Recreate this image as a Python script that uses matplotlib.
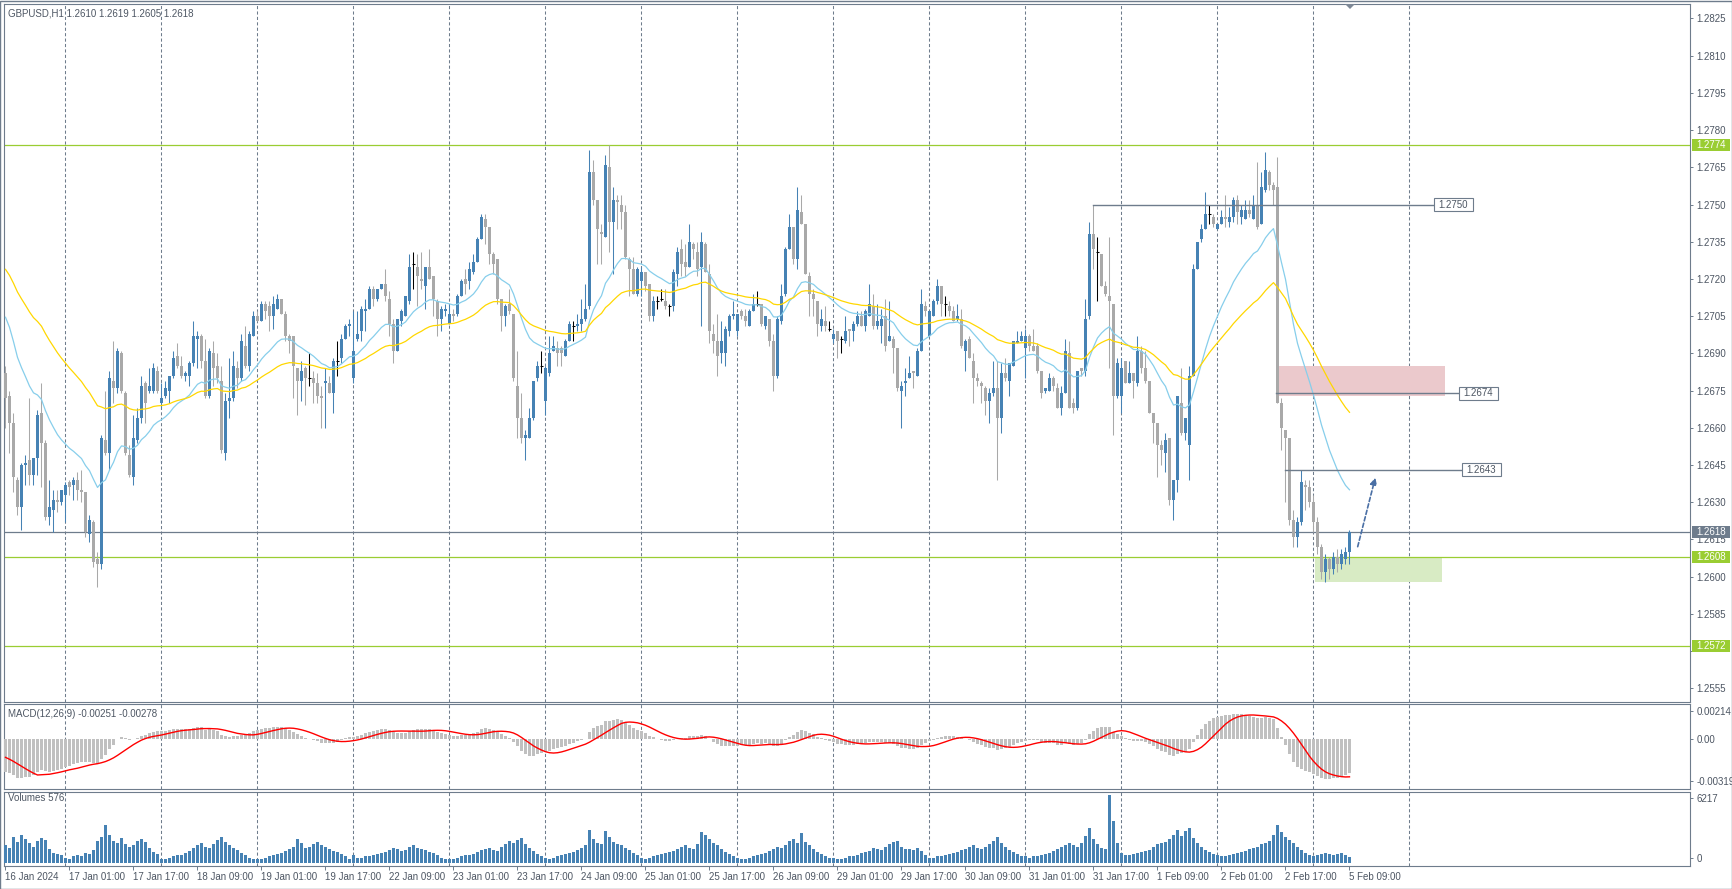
import numpy as np
import matplotlib
matplotlib.use("Agg")
import matplotlib.pyplot as plt
from matplotlib import transforms
from matplotlib.patches import Rectangle, Polygon

plt.rcParams['font.family'] = ['Liberation Sans', 'DejaVu Sans']

# ---------------- data (prices in 1/10000 above 1.0000) ----------------
symbol_title = "GBPUSD,H1 1.2610 1.2619 1.2605 1.2618"
macd_title = "MACD(12,26,9) -0.00251 -0.00278"
vol_title = "Volumes 576"

opens_p = [
2682,2673,2662,2639,2628,2645,2647,2641,2648,2666,
2654,2624,2627,2631,2630,2633,2638,2637,2639,2635,
2634,2617,2622,2607,2605,2655,2650,2679,2676,2690,
2674,2649,2640,2655,2664,2678,2675,2675,2683,2670,
2673,2675,2681,2689,2685,2681,2681,2686,2696,2697,
2687,2673,2690,2685,2679,2650,2671,2672,2684,2680,
2693,2685,2697,2705,2703,2710,2709,2705,2708,2712,
2706,2697,2697,2684,2679,2684,2680,2680,2678,2673,
2678,2678,2674,2687,2688,2696,2701,2680,2696,2699,
2707,2708,2716,2712,2716,2718,2712,2702,2691,2703,
2705,2711,2726,2725,2720,2717,2725,2721,2711,2704,
2707,2702,2706,2706,2713,2720,2719,2723,2727,2736,
2744,2741,2730,2728,2712,2705,2710,2706,2677,2664,
2656,2656,2664,2680,2685,2671,2682,2691,2692,2692,
2689,2695,2701,2701,2702,2704,2709,2763,2752,2739,
2737,2765,2743,2752,2750,2747,2728,2724,2714,2719,
2723,2718,2705,2711,2712,2711,2709,2709,2722,2732,
2727,2725,2734,2731,2725,2734,2722,2698,2695,2690,
2690,2699,2705,2699,2707,2705,2701,2707,2710,2710,
2701,2704,2695,2681,2703,2714,2732,2741,2728,2747,
2742,2721,2714,2711,2701,2703,2700,2696,2699,2696,
2695,2700,2699,2702,2705,2701,2705,2709,2701,2701,
2705,2695,2696,2692,2675,2678,2680,2683,2681,2691,
2709,2697,2705,2711,2717,2710,2709,2707,2704,2704,
2691,2696,2687,2680,2678,2676,2671,2674,2676,2664,
2682,2679,2685,2694,2695,2692,2697,2693,2693,2683,
2675,2675,2680,2676,2668,2674,2690,2670,2668,2684,
2683,2705,2738,2731,2730,2717,2713,2710,2673,2673,
2687,2678,2682,2678,2691,2684,2679,2666,2662,2653,
2650,2656,2631,2639,2670,2658,2653,2681,2724,2736,
2740,2746,2745,2740,2742,2745,2743,2745,2752,2745,
2744,2748,2744,2750,2742,2756,2763,2758,2757,2670,
2659,2656,2623,2616,2622,2637,2636,2630,2622,2612,
2602,2607,2603,2608,2605,2607,2610]

highs_p = [
2685,2675,2666,2640,2646,2649,2672,2648,2667,2678,
2655,2639,2635,2635,2635,2638,2639,2640,2642,2643,
2634,2625,2623,2610,2657,2675,2683,2695,2692,2691,
2675,2653,2665,2668,2681,2679,2684,2686,2685,2678,
2679,2681,2691,2694,2689,2683,2687,2703,2699,2698,
2696,2692,2695,2690,2685,2674,2688,2691,2687,2698,
2701,2699,2707,2707,2711,2711,2711,2713,2714,2712,
2707,2698,2697,2684,2687,2685,2690,2683,2682,2677,
2684,2681,2688,2695,2698,2702,2704,2707,2707,2709,
2712,2717,2717,2716,2718,2724,2715,2704,2704,2708,
2713,2730,2731,2730,2731,2725,2732,2721,2712,2709,
2710,2710,2708,2714,2720,2724,2727,2730,2737,2746,
2746,2741,2731,2728,2712,2710,2716,2706,2691,2674,
2659,2668,2679,2687,2691,2685,2697,2697,2695,2693,
2696,2703,2703,2706,2712,2718,2772,2768,2752,2742,
2770,2774,2757,2754,2754,2750,2729,2729,2725,2725,
2723,2718,2713,2713,2716,2716,2710,2724,2733,2736,
2734,2742,2735,2735,2739,2735,2726,2702,2706,2703,
2701,2706,2711,2706,2708,2708,2708,2714,2715,2710,
2705,2704,2698,2705,2718,2733,2746,2741,2757,2754,
2742,2723,2716,2711,2708,2709,2703,2700,2699,2697,
2705,2700,2703,2707,2707,2708,2718,2714,2710,2708,
2712,2711,2697,2692,2679,2684,2689,2683,2692,2716,
2711,2707,2712,2720,2717,2713,2711,2709,2710,2708,
2696,2697,2690,2682,2679,2677,2676,2687,2687,2686,
2688,2686,2695,2699,2699,2700,2698,2700,2694,2683,
2676,2682,2681,2678,2677,2696,2695,2672,2683,2684,
2712,2743,2750,2737,2730,2719,2737,2710,2688,2688,
2687,2687,2682,2697,2693,2691,2679,2666,2662,2655,
2658,2656,2639,2673,2684,2664,2685,2726,2735,2742,
2755,2750,2746,2742,2748,2754,2749,2753,2754,2750,
2752,2752,2754,2767,2763,2771,2764,2759,2769,2672,
2659,2656,2627,2624,2643,2639,2639,2633,2624,2613,
2609,2608,2610,2611,2611,2612,2619]

lows_p = [
2660,2650,2634,2625,2619,2637,2637,2637,2641,2636,
2623,2621,2618,2626,2629,2622,2633,2631,2631,2630,
2616,2614,2604,2596,2603,2649,2643,2670,2674,2674,
2649,2640,2637,2654,2662,2662,2674,2674,2674,2668,
2672,2670,2680,2684,2680,2679,2677,2685,2684,2684,
2672,2672,2677,2678,2650,2647,2664,2671,2676,2679,
2684,2683,2697,2703,2703,2704,2699,2700,2708,2706,
2695,2690,2672,2665,2671,2669,2677,2670,2670,2660,
2660,2674,2666,2681,2686,2696,2697,2678,2695,2695,
2699,2708,2709,2711,2716,2711,2697,2686,2691,2701,
2705,2710,2716,2709,2716,2708,2720,2705,2697,2699,
2705,2702,2703,2705,2713,2714,2716,2722,2727,2736,
2734,2726,2722,2710,2699,2701,2706,2679,2656,2654,
2647,2656,2663,2679,2682,2665,2681,2691,2685,2685,
2689,2695,2695,2699,2699,2703,2708,2750,2726,2726,
2737,2731,2722,2740,2740,2728,2713,2714,2713,2713,
2715,2703,2703,2708,2711,2708,2705,2707,2717,2721,
2721,2725,2728,2721,2701,2723,2694,2690,2681,2686,
2685,2697,2704,2697,2704,2701,2701,2707,2709,2701,
2700,2693,2675,2680,2702,2713,2732,2726,2724,2742,
2722,2705,2705,2697,2699,2699,2699,2694,2688,2690,
2694,2693,2695,2701,2701,2699,2705,2700,2700,2694,
2691,2695,2682,2675,2660,2673,2680,2676,2681,2691,
2705,2697,2705,2710,2705,2705,2705,2703,2703,2692,
2683,2688,2670,2677,2670,2665,2662,2673,2639,2658,
2679,2673,2685,2694,2695,2680,2691,2691,2682,2672,
2674,2675,2675,2668,2665,2674,2668,2666,2667,2681,
2681,2704,2724,2711,2717,2713,2684,2657,2672,2666,
2678,2678,2672,2677,2682,2678,2666,2654,2640,2645,
2642,2629,2623,2634,2657,2655,2639,2681,2724,2735,
2740,2742,2741,2740,2742,2741,2741,2743,2742,2742,
2744,2745,2744,2740,2742,2755,2756,2750,2670,2651,
2630,2621,2612,2612,2621,2627,2628,2618,2609,2599,
2598,2599,2601,2602,2603,2605,2605]

closes_p = [
2672,2662,2640,2628,2645,2646,2641,2648,2665,2654,
2624,2628,2631,2630,2635,2637,2636,2639,2635,2634,
2618,2623,2606,2605,2656,2650,2680,2676,2691,2675,
2650,2641,2656,2664,2677,2670,2677,2684,2675,2672,
2676,2681,2688,2685,2681,2682,2686,2697,2697,2687,
2673,2691,2684,2680,2651,2671,2672,2685,2680,2695,
2685,2698,2705,2703,2710,2707,2705,2710,2712,2706,
2697,2695,2685,2679,2683,2680,2680,2678,2673,2672,
2679,2674,2687,2687,2696,2701,2702,2691,2698,2708,
2708,2716,2712,2716,2718,2713,2702,2691,2704,2707,
2713,2725,2726,2721,2719,2725,2720,2712,2704,2708,
2708,2706,2705,2713,2719,2718,2724,2727,2736,2745,
2741,2730,2726,2712,2705,2709,2707,2680,2664,2656,
2657,2664,2679,2685,2685,2684,2690,2693,2690,2690,
2695,2702,2701,2702,2704,2708,2763,2752,2740,2738,
2766,2743,2752,2751,2747,2729,2724,2714,2724,2723,
2717,2705,2711,2711,2712,2709,2709,2723,2731,2726,
2725,2735,2732,2724,2735,2723,2699,2695,2689,2695,
2700,2705,2706,2706,2705,2703,2707,2710,2710,2702,
2705,2695,2681,2704,2713,2732,2741,2728,2748,2742,
2722,2714,2712,2702,2704,2701,2700,2698,2695,2696,
2699,2699,2702,2705,2701,2707,2710,2701,2703,2704,
2693,2697,2692,2676,2677,2679,2682,2682,2691,2710,
2707,2707,2711,2717,2710,2710,2707,2703,2705,2693,
2695,2688,2680,2679,2677,2671,2674,2676,2664,2682,
2680,2686,2695,2695,2697,2697,2693,2691,2683,2674,
2676,2680,2677,2668,2674,2691,2668,2668,2683,2683,
2704,2738,2732,2731,2717,2714,2711,2673,2686,2684,
2678,2682,2679,2691,2684,2679,2666,2662,2653,2651,
2655,2631,2639,2673,2658,2664,2681,2724,2735,2740,
2746,2746,2742,2742,2745,2744,2745,2752,2747,2748,
2748,2746,2750,2741,2757,2764,2758,2756,2670,2660,
2656,2623,2616,2622,2638,2636,2630,2622,2612,2602,
2607,2603,2608,2605,2609,2610,2618]

volumes = [
1600,1400,2400,1900,2600,2200,1800,1500,2000,2300,2100,1300,900,800,700,
500,400,600,700,600,900,800,1200,2000,2400,3500,2600,2000,1800,2300,1700,1500,1600,2000,2200,1900,1400,1000,800,
400,400,500,600,700,700,900,1100,1400,1600,1800,1500,1400,1700,2100,2400,1900,1600,1400,1200,900,700,500,400,
400,400,500,600,700,800,900,1100,1300,1500,2200,1800,1400,1500,1700,1900,1600,1500,1300,1100,1000,800,600,400,
700,500,500,600,600,700,800,900,1000,1200,1400,1300,1100,1200,1500,1600,1400,1300,1200,1000,900,700,500,400,
400,400,500,600,700,700,800,1000,1200,1300,1400,1200,1100,1500,1700,2000,1800,2100,2300,1700,1400,1100,800,600,
500,400,500,600,700,800,900,1000,1200,1400,1600,3000,2200,1800,1700,2900,2400,1900,1700,1600,1400,1200,900,700,
500,400,500,600,700,800,900,1000,1100,1300,1500,1600,1400,1300,1700,2800,2600,2200,1800,1600,1300,1000,800,600,
500,400,400,500,600,700,800,900,1100,1300,1500,1400,1600,2000,2200,1800,2700,1900,1600,1300,1000,800,600,500,
500,400,400,500,600,600,700,900,1000,1100,1400,1300,1200,1500,1700,1900,2000,1500,1300,1300,1200,1400,1100,700,
500,500,600,600,700,800,900,1000,1200,1300,1500,1600,1400,1300,1500,1700,2000,2400,1800,1500,1200,1000,800,600,
600,500,600,600,700,800,900,1100,1300,1500,1600,1800,1600,1500,1800,2500,3200,2200,1700,1400,1300,6217,3800,1800,
900,700,700,800,900,1000,1100,1200,1500,1700,1800,1900,2200,2600,3000,2500,2900,3200,2300,1800,1500,1200,1000,800,
700,600,600,700,800,900,1000,1100,1300,1400,1500,1700,1800,2000,2600,3500,2800,2400,2100,1800,1500,1200,900,700,
600,700,800,900,800,700,800,900,700,576]

time_label_idx = [0, 16, 32, 48, 64, 80, 96, 112, 128, 144, 160, 176, 192,
                  208, 224, 240, 256, 272, 288, 304, 320, 336]
time_labels = ["16 Jan 2024", "17 Jan 01:00", "17 Jan 17:00", "18 Jan 09:00",
               "19 Jan 01:00", "19 Jan 17:00", "22 Jan 09:00", "23 Jan 01:00",
               "23 Jan 17:00", "24 Jan 09:00", "25 Jan 01:00", "25 Jan 17:00",
               "26 Jan 09:00", "29 Jan 01:00", "29 Jan 17:00", "30 Jan 09:00",
               "31 Jan 01:00", "31 Jan 17:00", "1 Feb 09:00", "2 Feb 01:00",
               "2 Feb 17:00", "5 Feb 09:00"]
midnight_idx = [15, 39, 63, 87, 111, 135, 159, 183, 207, 231, 255, 279, 303, 327, 351]
price_ticks = [1.2825, 1.2810, 1.2795, 1.2780, 1.2765, 1.2750, 1.2735, 1.2720,
               1.2705, 1.2690, 1.2675, 1.2660, 1.2645, 1.2630, 1.2615, 1.2600,
               1.2585, 1.2570, 1.2555]
hidden_ticks = [1.2570]          # covered by the 1.2572 level box
green_levels = [1.2774, 1.2608, 1.2572]
bid_level = 1.2618
trend_levels = [1.2750, 1.2674, 1.2643]
trend_start_idx = [272, 317.6, 319.9]
red_zone = (1.2673, 1.2685)
green_zone = (1.2598, 1.2608)
arrow_from = 1.2611
arrow_to = 1.2641
macd_ticks = [0.00214, 0.0, -0.00319]
macd_tick_labels = ["0.00214", "0.00", "-0.00319"]
vol_max_label = "6217"
ema20_prev, ema50_prev = 1.2708, 1.2726
ema12_prev, ema26_prev = 1.2694, 1.2719
macd_prior = -0.00125

o = 1 + np.array(opens_p) / 10000.0
h = 1 + np.array(highs_p) / 10000.0
l = 1 + np.array(lows_p) / 10000.0
c = 1 + np.array(closes_p) / 10000.0
v = np.array(volumes, dtype=float)
n = len(c)
x = np.arange(n)


def ema(vals, period, prev):
    a = 2.0 / (period + 1)
    out = np.empty(len(vals))
    for k, val in enumerate(vals):
        prev = prev + a * (val - prev)
        out[k] = prev
    return out


ema20 = ema(c, 20, ema20_prev)
ema50 = ema(c, 50, ema50_prev)
macd = ema(c, 12, ema12_prev) - ema(c, 26, ema26_prev)
padded = np.concatenate([np.full(8, macd_prior), macd])
signal = np.convolve(padded, np.ones(9) / 9.0, mode='valid')

# ---------------- layout ----------------
W, H = 1733, 889
fig = plt.figure(figsize=(W / 100, H / 100), dpi=100)
fig.patch.set_facecolor('white')
PX = transforms.Affine2D().scale(1.0 / W, -1.0 / H).translate(0, 1) + fig.transFigure

L, R = 4, 1690
MT, MB = 4, 702
CT, CB = 704, 789
VT, VB = 792, 866
XMIN, XMAX = (L - 5.5) / 4, (R - 5.5) / 4
PPU = 24808.0
YMAX = 1.2774 + (145 - MT) / PPU
YMIN = 1.2774 - (MB - 145) / PPU
MPU = 13230.0
MZ = 739
VPU = 68.0 / 6217
VZ = 863

FRAME = '#6e7c8c'
TXT = '#4d5663'
BLUE = '#4682b4'
GRAY = '#a9a9a9'
GREEN = '#9acd32'
FS = 7


def add_ax(t, b):
    a = fig.add_axes([L / W, 1 - b / H, (R - L) / W, (b - t) / H])
    a.set_xlim(XMIN, XMAX)
    a.set_facecolor('white')
    for s in a.spines.values():
        s.set_color(FRAME)
        s.set_linewidth(0.8)
    a.yaxis.tick_right()
    a.tick_params(axis='y', length=2.5, width=0.7, color=FRAME, labelsize=FS,
                  labelcolor=TXT, pad=2)
    a.tick_params(axis='x', length=0, labelbottom=False)
    for gi in midnight_idx:
        a.axvline(gi, color=FRAME, lw=0.75, ls=(0, (3, 2.2)), zorder=1)
    return a


def py(p):
    return 145 + (1.2774 - p) * PPU


ax = add_ax(MT, MB)
axm = add_ax(CT, CB)
axv = add_ax(VT, VB)

ax.set_ylim(YMIN, YMAX)
axm.set_ylim(-(CB - MZ) / MPU, (MZ - CT) / MPU)
axv.set_ylim(-(VB - VZ) / VPU, (VZ - VT) / VPU)

# main price ticks
ax.set_yticks(price_ticks)
ax.set_yticklabels(["" if t in hidden_ticks else f"{t:.4f}" for t in price_ticks])

# ---------------- main panel ----------------
up = c > o
dn = c < o
dj = c == o
col = np.where(up, BLUE, np.where(dn, GRAY, 'black'))

# zones (behind candles)
ax.add_patch(Rectangle(((1276 - 5.5) / 4, red_zone[0]), (1445 - 1276) / 4,
                       red_zone[1] - red_zone[0], facecolor='#ebc9cc',
                       edgecolor='none', zorder=2))
ax.add_patch(Rectangle(((1315 - 5.5) / 4, green_zone[0]), (1442 - 1315) / 4,
                       green_zone[1] - green_zone[0], facecolor='#d8ebc4',
                       edgecolor='none', zorder=2))

for lv in green_levels:
    ax.axhline(lv, color=GREEN, lw=0.9, zorder=2.5)
ax.axhline(bid_level, color=FRAME, lw=0.9, zorder=2.5)

ax.vlines(x, l, h, colors=col, linewidth=0.75, zorder=3)
nb = ~dj
ax.bar(x[nb], np.abs(c - o)[nb], bottom=np.minimum(o, c)[nb], width=0.75,
       color=col[nb], linewidth=0, zorder=4)
ax.hlines(o[dj], x[dj] - 0.45, x[dj] + 0.45, colors='black', linewidth=0.75, zorder=4)

ax.plot(x, ema20, color='#87ceeb', lw=0.9, zorder=5)
ax.plot(x, ema50, color='#ffd700', lw=0.9, zorder=5)

# trend lines with labels
box_left = [1434, 1459, 1462]
for lv, si, bl in zip(trend_levels, trend_start_idx, box_left):
    ax.plot([si, (bl - 5.5) / 4], [lv, lv], color=FRAME, lw=1.0, zorder=6)
    yc = py(lv)
    fig.patches.append(Rectangle((bl, yc - 6.5), 39, 13, transform=PX,
                                 facecolor='white', edgecolor=FRAME, lw=0.8))
    fig.text(bl + 19.5, yc, f"{lv:.4f}", transform=PX, ha='center', va='center',
             fontsize=FS, color=TXT)

# forecast arrow
ax.annotate('', xy=((1376 - 5.5) / 4, arrow_to), xytext=((1357 - 5.5) / 4, arrow_from),
            arrowprops=dict(arrowstyle='-|>', color='#4a6fa5', lw=1.2,
                            linestyle=(0, (2.5, 1.5)), mutation_scale=10),
            zorder=7)

# right-axis price boxes
for lv, fc in [(1.2774, GREEN), (1.2608, GREEN), (1.2572, GREEN), (bid_level, '#6e7c8c')]:
    yc = py(lv)
    fig.patches.append(Rectangle((1692, yc - 6), 38, 12, transform=PX,
                                 facecolor=fc, edgecolor='none'))
    fig.text(1711, yc, f"{lv:.4f}", transform=PX, ha='center', va='center',
             fontsize=FS, color='white')

# chart-shift marker
fig.patches.append(Polygon([(1345, 4), (1355, 4), (1350, 9)], closed=True,
                           transform=PX, facecolor='#7d8896', edgecolor='none'))

fig.text(8, 13, symbol_title, transform=PX, ha='left', va='center',
         fontsize=FS, color=TXT)

# ---------------- MACD ----------------
axm.bar(x, macd, width=0.6, color='#c0c0c0', linewidth=0, zorder=3)
axm.plot(x, signal, color='red', lw=1.0, zorder=4)
axm.set_yticks(macd_ticks)
axm.set_yticklabels(macd_tick_labels)
fig.text(8, 714, macd_title, transform=PX, ha='left', va='center',
         fontsize=FS, color=TXT)

# ---------------- Volumes ----------------
axv.bar(x, v, width=0.55, color=BLUE, linewidth=0, zorder=3)
axv.set_yticks([(VZ - 798) / VPU, (VZ - 857.5) / VPU])
axv.set_yticklabels([vol_max_label, "0"])
fig.text(8, 798, vol_title, transform=PX, ha='left', va='center',
         fontsize=FS, color=TXT)

axv.set_xticks(time_label_idx)
axv.set_xticklabels(time_labels, ha='left')
axv.tick_params(axis='x', length=3, width=0.7, color=FRAME, labelbottom=True,
                labelsize=FS, labelcolor=TXT, pad=1)

# outer frame
fig.patches.append(Rectangle((0.5, 0.5), W - 1, H - 1, transform=PX, fill=False,
                             edgecolor=FRAME, lw=1.0))

fig.savefig('out.png', dpi=100, facecolor='white')
